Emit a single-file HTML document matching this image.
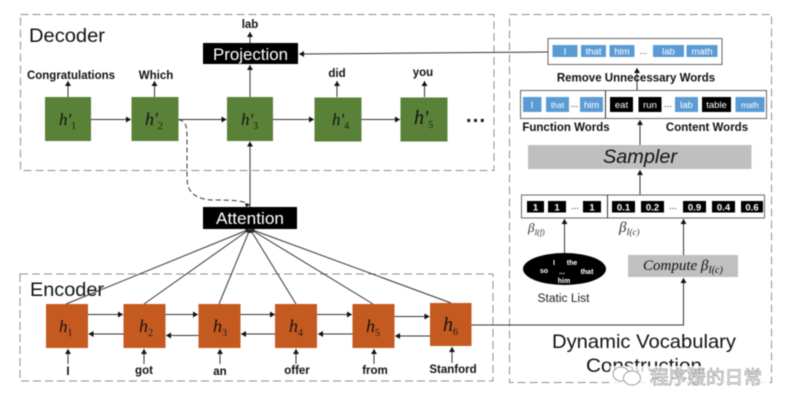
<!DOCTYPE html>
<html><head><meta charset="utf-8"><style>
html,body{margin:0;padding:0;background:#fff}
svg{display:block;filter:blur(.4px)}
text{font-family:"Liberation Sans","Noto Sans CJK SC",sans-serif}
text.h,text.m{font-family:"Liberation Serif",serif}
.b{font-weight:bold;font-size:11.5px;fill:#111;text-anchor:middle}
.t{font-size:19px;fill:#111}
.h{font-style:italic;font-size:17px;fill:#111}
.m{font-style:italic}
.s{font-size:10px;fill:#1a1a1a}
.w{fill:#fff;font-size:9.5px;text-anchor:middle}
.k{fill:#fff;font-size:9.5px;font-weight:bold;text-anchor:middle}
.g{fill:#5a8138}.o{fill:#c55a20}.bl{fill:#5b9bd5}.bk{fill:#000}
.l{stroke:#333;stroke-width:1;fill:none}
.dash{stroke:#8a9097;stroke-width:1;fill:none;stroke-dasharray:8 4}
</style></head><body>
<svg width="788" height="410" viewBox="0 0 788 410" xmlns="http://www.w3.org/2000/svg">
<defs><marker id="a" markerWidth="5" markerHeight="6" refX="5" refY="3" orient="auto" markerUnits="userSpaceOnUse"><path d="M0 0L5 3L0 6Z" fill="#111"/></marker></defs>

<rect class="dash" x="20.5" y="14.5" width="473.5" height="156"/>
<rect class="dash" x="509.5" y="14.5" width="262" height="368"/>
<rect class="dash" x="20" y="274" width="473" height="107"/>

<text class="t" x="29" y="42" textLength="76" lengthAdjust="spacingAndGlyphs">Decoder</text>
<text class="t" x="30" y="296" textLength="74" lengthAdjust="spacingAndGlyphs">Encoder</text>

<!-- decoder -->
<rect class="g" x="45" y="97" width="46" height="44"/>
<rect class="g" x="131.5" y="97" width="47" height="44"/>
<rect class="g" x="227" y="97" width="46" height="44"/>
<rect class="g" x="314.5" y="97.500" width="47" height="44"/>
<rect class="g" x="400.500" y="97.500" width="47" height="44"/>
<text class="h" x="59" y="125">h'<tspan class="s" dy="4" font-style="normal">1</tspan></text>
<text class="h" x="145" y="125" style="font-size:18px">h'<tspan class="s" dy="4" font-style="normal">2</tspan></text>
<text class="h" x="241" y="125">h'<tspan class="s" dy="4" font-style="normal">3</tspan></text>
<text class="h" x="332" y="125">h'<tspan class="s" dy="4" font-style="normal">4</tspan></text>
<text class="h" x="414" y="124" style="font-size:20px">h'<tspan class="s" dy="4" font-style="normal">5</tspan></text>
<text x="466" y="122" font-size="20" font-weight="bold" fill="#111" textLength="19">...</text>

<path class="l" d="M91 119.500H131" marker-end="url(#a)"/>
<path class="l" d="M178.500 119.500H226.500" marker-end="url(#a)"/>
<path class="l" d="M273 119.500H314" marker-end="url(#a)"/>
<path class="l" d="M361.500 119.500H400" marker-end="url(#a)"/>
<path class="l" d="M68 97V81" marker-end="url(#a)"/>
<path class="l" d="M154.500 97V81" marker-end="url(#a)"/>
<path class="l" d="M250 97V65" marker-end="url(#a)"/>
<path class="l" d="M250 43V32" marker-end="url(#a)"/>
<path class="l" d="M337 97V81" marker-end="url(#a)"/>
<path class="l" d="M424.500 97V81" marker-end="url(#a)"/>
<path class="l" d="M250 207V141.500" marker-end="url(#a)"/>

<text class="b" x="71" y="79" textLength="88" lengthAdjust="spacingAndGlyphs">Congratulations</text>
<text class="b" x="156" y="79">Which</text>
<text class="b" x="250" y="28">lab</text>
<text class="b" x="337" y="77">did</text>
<text class="b" x="423" y="76">you</text>

<rect class="bk" x="203" y="43" width="95" height="21"/>
<text x="250.500" y="60" fill="#fff" font-size="17" text-anchor="middle" textLength="75" lengthAdjust="spacingAndGlyphs">Projection</text>
<rect class="bk" x="203" y="207" width="94" height="22"/>
<text x="250" y="224" fill="#fff" font-size="16.500" text-anchor="middle" textLength="68" lengthAdjust="spacingAndGlyphs">Attention</text>

<path d="M178.500 119.500C185 121 187 125 187 135V178C187 192 195 199 212 200C228 200 245 200 249 205" fill="none" stroke="#333" stroke-width="1" stroke-dasharray="5 3"/>
<path d="M245 203L250 205L246 207Z" fill="#111"/>

<!-- encoder -->
<ellipse cx="250" cy="230.500" rx="5" ry="2.500" fill="#111"/>
<g class="l">
<path d="M66 304L250 229"/><path d="M144 304L250 229"/><path d="M219 304L250 229"/>
<path d="M296 304L250 229"/><path d="M373 304L250 229"/><path d="M451 303L250 229"/>
</g>
<rect class="o" x="46" y="304" width="42" height="44"/>
<rect class="o" x="123.500" y="304" width="42" height="44"/>
<rect class="o" x="198.500" y="304" width="42" height="44"/>
<rect class="o" x="275" y="304" width="42" height="44"/>
<rect class="o" x="352.500" y="304" width="42" height="44"/>
<rect class="o" x="430" y="303" width="41.500" height="43"/>
<text class="h" x="59" y="332">h<tspan class="s" dy="4" font-style="normal">1</tspan></text>
<text class="h" x="139" y="332" style="font-size:18px">h<tspan class="s" dy="4" font-style="normal">2</tspan></text>
<text class="h" x="213" y="332" style="font-size:18px">h<tspan class="s" dy="4" font-style="normal">3</tspan></text>
<text class="h" x="289" y="332" style="font-size:18px">h<tspan class="s" dy="4" font-style="normal">4</tspan></text>
<text class="h" x="366" y="332" style="font-size:18px">h<tspan class="s" dy="4" font-style="normal">5</tspan></text>
<text class="h" x="443" y="331" style="font-size:20px">h<tspan class="s" dy="4" font-style="normal">6</tspan></text>

<path class="l" d="M88 314.500H123" marker-end="url(#a)"/>
<path class="l" d="M123.500 334H88.500" marker-end="url(#a)"/>
<path class="l" d="M165.500 314.500H198" marker-end="url(#a)"/>
<path class="l" d="M198.500 335.500H166" marker-end="url(#a)"/>
<path class="l" d="M240.500 314.500H275" marker-end="url(#a)"/>
<path class="l" d="M275 334H241" marker-end="url(#a)"/>
<path class="l" d="M317 314.500H352" marker-end="url(#a)"/>
<path class="l" d="M352.500 334H318" marker-end="url(#a)"/>
<path class="l" d="M394.500 316.500H429.500" marker-end="url(#a)"/>
<path class="l" d="M430 336H395" marker-end="url(#a)"/>
<path class="l" d="M68 364V349" marker-end="url(#a)"/>
<path class="l" d="M144 364V349" marker-end="url(#a)"/>
<path class="l" d="M220 364V349" marker-end="url(#a)"/>
<path class="l" d="M296 364V349" marker-end="url(#a)"/>
<path class="l" d="M374 364V349" marker-end="url(#a)"/>
<path class="l" d="M452 363V347" marker-end="url(#a)"/>
<text class="b" x="68" y="375">I</text>
<text class="b" x="144" y="374">got</text>
<text class="b" x="220" y="375">an</text>
<text class="b" x="297" y="374">offer</text>
<text class="b" x="375" y="374">from</text>
<text class="b" x="453" y="373">Stanford</text>

<!-- right panel -->
<path class="l" d="M548 52L299 54" marker-end="url(#a)"/>
<rect x="548" y="38.500" width="174" height="26" fill="#fff" stroke="#666"/>
<rect class="bl" x="552.500" y="45" width="25" height="12"/><text class="w" x="565" y="54.500">I</text>
<rect class="bl" x="581" y="45" width="25" height="12"/><text class="w" x="593.500" y="54.500">that</text>
<rect class="bl" x="609.500" y="45" width="25" height="12"/><text class="w" x="622" y="54.500">him</text>
<text x="643.500" y="54" font-size="9" fill="#333" text-anchor="middle">...</text>
<rect class="bl" x="653" y="45" width="31" height="12"/><text class="w" x="668.500" y="54.500">lab</text>
<rect class="bl" x="686.500" y="45" width="31" height="12"/><text class="w" x="702" y="54.500">math</text>
<path class="l" d="M637 90V68" marker-end="url(#a)"/>
<text class="b" x="636" y="81.500">Remove Unnecessary Words</text>

<rect x="520.500" y="90.500" width="246" height="28" fill="#fff" stroke="#666"/>
<path class="l" d="M605.500 90.500V118.500"/>
<rect class="bl" x="523" y="97" width="18.500" height="15"/><text class="w" x="532" y="108">I</text>
<rect class="bl" x="546" y="97" width="23" height="15"/><text class="w" x="557.500" y="108" style="font-size:8px">that</text>
<text x="574.500" y="107" font-size="9" fill="#111" text-anchor="middle">...</text>
<rect class="bl" x="580" y="97" width="23" height="15"/><text class="w" x="591.500" y="108">him</text>
<rect class="bk" x="610" y="97" width="23" height="15"/><text class="w" x="621.500" y="108">eat</text>
<rect class="bk" x="638.500" y="97" width="23" height="15"/><text class="w" x="650" y="108">run</text>
<text x="668" y="107" font-size="9" fill="#111" text-anchor="middle">...</text>
<rect class="bl" x="675" y="97" width="23" height="15"/><text class="w" x="686.500" y="108">lab</text>
<rect class="bk" x="702" y="97" width="29" height="15"/><text class="w" x="716.500" y="108">table</text>
<rect class="bl" x="735.500" y="97" width="29" height="15"/><text class="w" x="750" y="108" style="font-size:8px">math</text>
<text class="b" x="566" y="131">Function Words</text>
<text class="b" x="707" y="131">Content Words</text>

<path class="l" d="M640 145V120" marker-end="url(#a)"/>
<rect x="528" y="145" width="223.500" height="24" fill="#bfbfbf"/>
<text x="640" y="163" font-size="19" font-style="italic" fill="#111" text-anchor="middle" textLength="74" lengthAdjust="spacingAndGlyphs">Sampler</text>
<path class="l" d="M640 195V170" marker-end="url(#a)"/>

<rect x="521.500" y="195" width="243" height="23" fill="#fff" stroke="#666"/>
<path class="l" d="M607.500 195V218"/>
<rect class="bk" x="527" y="201" width="17" height="11.500"/><text class="k" x="535.500" y="210.500">1</text>
<rect class="bk" x="548" y="201" width="18" height="11.500"/><text class="k" x="557" y="210.500">1</text>
<text x="575" y="209" font-size="9" fill="#111" text-anchor="middle">...</text>
<rect class="bk" x="583" y="201" width="18" height="11.500"/><text class="k" x="592" y="210.500">1</text>
<rect class="bk" x="612" y="201" width="23" height="11.500"/><text class="k" x="623.500" y="210.500">0.1</text>
<rect class="bk" x="641" y="201" width="23" height="11.500"/><text class="k" x="652.500" y="210.500">0.2</text>
<text x="673" y="209" font-size="9" fill="#111" text-anchor="middle">...</text>
<rect class="bk" x="683" y="201" width="23" height="11.500"/><text class="k" x="694.500" y="210.500">0.9</text>
<rect class="bk" x="712" y="201" width="23" height="11.500"/><text class="k" x="723.500" y="210.500">0.4</text>
<rect class="bk" x="741" y="201" width="22" height="11.500"/><text class="k" x="752" y="210.500">0.6</text>

<text class="m" x="528" y="232" font-size="13" fill="#333">β<tspan font-size="8" dy="3">I(f)</tspan></text>
<text class="m" x="619" y="232" font-size="15" fill="#333">β<tspan font-size="9" dy="3">I(c)</tspan></text>

<path class="l" d="M564.500 254V219" marker-end="url(#a)"/>
<path class="l" d="M683.500 255V219" marker-end="url(#a)"/>
<ellipse cx="564.500" cy="269" rx="41.500" ry="16" fill="#000"/>
<g fill="#fff" font-size="7" font-weight="bold" text-anchor="middle">
<text x="554" y="265">I</text><text x="572" y="265">the</text>
<text x="544" y="273">so</text><text x="562" y="274">...</text><text x="587" y="274">that</text>
<text x="564" y="283">him</text></g>
<text x="563.500" y="302" font-size="11.500" fill="#222" text-anchor="middle" textLength="52" lengthAdjust="spacingAndGlyphs">Static List</text>

<rect x="628" y="255" width="110" height="22" fill="#c0c0c0"/>
<text class="m" x="643" y="270" font-size="15" fill="#111">Compute β<tspan font-size="10" dy="3">I(c)</tspan></text>
<path class="l" d="M471.500 325H683.500V278" marker-end="url(#a)"/>

<text x="644" y="348" font-size="19.500" fill="#111" text-anchor="middle" textLength="184" lengthAdjust="spacingAndGlyphs">Dynamic Vocabulary</text>
<text x="644" y="372" font-size="19.500" fill="#111" text-anchor="middle" textLength="116" lengthAdjust="spacingAndGlyphs">Construction</text>

<!-- watermark -->
<rect x="610" y="366" width="156" height="17" fill="#fff" opacity=".8"/>
<g fill="#fff" stroke="#888" stroke-width=".8">
<ellipse cx="621" cy="374" rx="8" ry="7"/><ellipse cx="632" cy="378" rx="8.500" ry="7"/>
</g>
<text x="650" y="384" font-size="18.500" fill="#fff" stroke="#777" stroke-width=".5" textLength="112" lengthAdjust="spacingAndGlyphs">程序媛的日常</text>
</svg>
</body></html>
